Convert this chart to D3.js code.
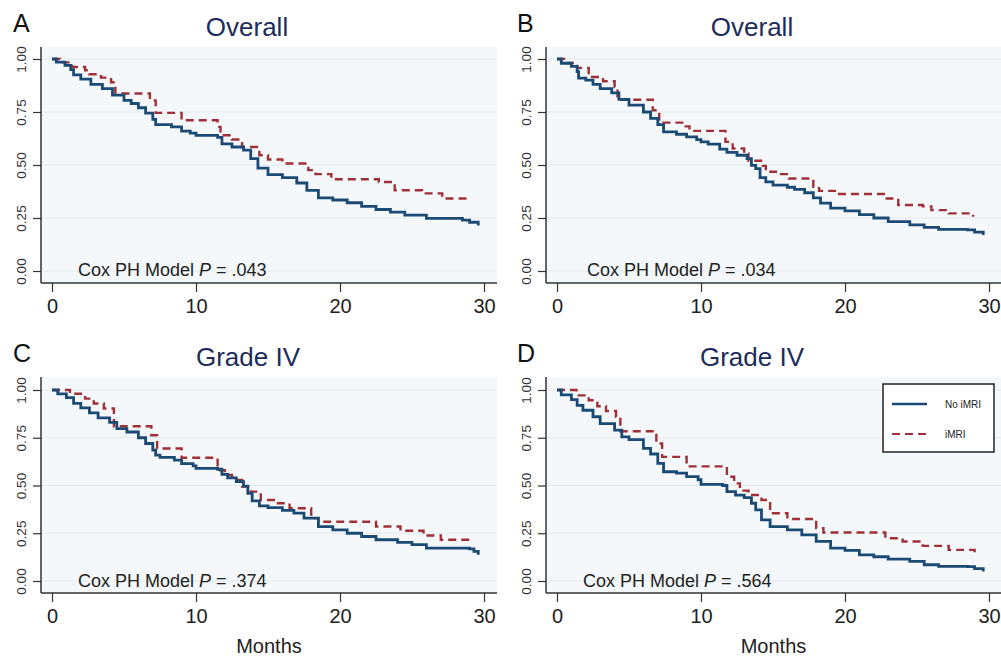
<!DOCTYPE html>
<html>
<head>
<meta charset="utf-8">
<script src="https://cdn.jsdelivr.net/npm/d3@7"></script>
<style>
  body { margin: 0; background: #fff; }
  svg { display: block; font-family: "Liberation Sans", Arial, sans-serif; }
</style>
</head>
<body>
<svg id="chart" width="1001" height="656"></svg>
<script>
// tick labels / text
var monthTicks = [0, 10, 20, 30];
var survTicks = [0, 0.25, 0.5, 0.75, 1];
var panelLetters = ["A", "B", "C", "D"];
var panelTitles = ["Overall", "Overall", "Grade IV", "Grade IV"];
var pValues = [".043", ".034", ".374", ".564"];
var seriesNames = ["No iMRI", "iMRI"];

// Kaplan-Meier curves: [month, survival]
var aNoImri = [[0,1],[0.3,0.985],[0.9,0.97],[1.3,0.95],[1.5,0.925],[2,0.905],[2.7,0.88],[3.5,0.86],[4.2,0.83],[5,0.805],
  [5.5,0.79],[6,0.77],[6.5,0.745],[7,0.715],[7.2,0.69],[8.3,0.68],[9,0.66],[9.6,0.65],[10,0.64],[11.5,0.63],[11.8,0.6],
  [12.5,0.585],[13.3,0.57],[13.8,0.53],[14.3,0.485],[15,0.455],[16,0.44],[17,0.415],[17.7,0.38],[18.5,0.345],[19.5,0.335],
  [20.5,0.322],[21.5,0.305],[22.5,0.29],[23.5,0.278],[24.5,0.264],[26,0.248],[28.5,0.24],[29,0.23],[29.6,0.215]];
var aImri = [[0,1],[0.55,0.984],[1.4,0.962],[2.3,0.947],[2.6,0.928],[3.4,0.912],[4.1,0.89],[4.4,0.837],[6.8,0.805],[7.2,0.746],
  [9,0.711],[11.5,0.68],[11.7,0.64],[12.5,0.62],[13.2,0.585],[14.4,0.546],[15,0.526],[16,0.507],[17.8,0.476],[18.3,0.457],
  [19.4,0.433],[22.7,0.42],[23.8,0.381],[25.7,0.366],[27.1,0.342],[28.9,0.327]];

var bNoImri = [[0,1],[0.3,0.98],[1,0.965],[1.4,0.94],[1.5,0.91],[2,0.9],[2.5,0.88],[3,0.86],[3.8,0.84],[4.3,0.81],[5,0.782],
  [6,0.75],[6.5,0.72],[7,0.69],[7.4,0.656],[8.3,0.645],[9,0.633],[9.7,0.62],[10,0.609],[10.5,0.598],[11.3,0.575],[11.8,0.56],
  [12.5,0.546],[13.2,0.53],[13.5,0.498],[13.8,0.483],[14.1,0.44],[14.5,0.42],[15,0.405],[16,0.395],[16.5,0.385],[17.2,0.369],
  [17.8,0.345],[18.3,0.32],[19,0.297],[20,0.284],[21,0.266],[22,0.25],[23,0.233],[24.5,0.218],[25.5,0.206],[26.5,0.196],
  [28.5,0.194],[29,0.183],[29.6,0.17]];
var bImri = [[0,1],[0.5,0.981],[1.4,0.958],[2.2,0.915],[3.2,0.895],[4,0.868],[4.2,0.808],[6.65,0.758],[7.1,0.7],[8.7,0.682],
  [9.2,0.661],[11.7,0.609],[12.2,0.578],[13,0.554],[13.3,0.52],[14.3,0.496],[14.5,0.468],[15.2,0.457],[16.1,0.436],[17.8,0.397],
  [18.2,0.378],[19.4,0.363],[22.8,0.342],[23.7,0.311],[25.4,0.305],[26,0.287],[27.2,0.272],[28.9,0.256]];

var cNoImri = [[0,1],[0.4,0.98],[1,0.96],[1.5,0.93],[2,0.906],[2.6,0.88],[3.2,0.854],[4,0.83],[4.5,0.798],[5.2,0.78],[6,0.75],
  [6.5,0.72],[7,0.685],[7.2,0.659],[7.5,0.647],[8.5,0.633],[9,0.615],[9.8,0.603],[10,0.59],[11.5,0.585],[11.8,0.558],[12.2,0.54],
  [12.8,0.52],[13.3,0.497],[13.6,0.459],[13.9,0.419],[14.4,0.393],[15,0.384],[16,0.37],[16.8,0.355],[17.5,0.329],[18.5,0.285],
  [19.5,0.268],[20.5,0.25],[21.5,0.233],[22.5,0.216],[24,0.202],[25,0.19],[26,0.172],[29,0.168],[29.3,0.155],[29.6,0.137]];
var cImri = [[0,1],[1.25,0.98],[2.3,0.955],[2.9,0.929],[3.6,0.903],[4.3,0.81],[6.9,0.763],[7.3,0.694],[9,0.645],[11.5,0.58],
  [12,0.555],[12.5,0.529],[13.2,0.494],[13.8,0.468],[14.5,0.424],[15.5,0.407],[16.5,0.381],[18,0.329],[18.5,0.31],[22.5,0.285],
  [24.2,0.263],[25.8,0.238],[27,0.216],[29,0.195]];

var dNoImri = [[0,1],[0.3,0.975],[1,0.95],[1.4,0.92],[1.8,0.894],[2.5,0.86],[3,0.824],[4,0.79],[4.5,0.755],[5,0.74],[6,0.694],
  [6.5,0.665],[7,0.616],[7.4,0.572],[8.3,0.565],[9,0.546],[9.8,0.53],[10,0.506],[11.5,0.5],[11.8,0.468],[12.4,0.45],[13,0.437],
  [13.5,0.407],[13.8,0.372],[14.2,0.32],[14.8,0.285],[16,0.268],[17,0.242],[18,0.207],[19,0.172],[20,0.16],[21,0.137],
  [22,0.127],[23,0.115],[24.5,0.103],[25.5,0.085],[26.5,0.077],[28.5,0.075],[29,0.065],[29.6,0.05]];
var dImri = [[0,1],[1.35,0.972],[2.2,0.946],[2.8,0.915],[3.4,0.89],[4.1,0.86],[4.4,0.784],[6.9,0.72],[7.3,0.65],[9,0.6],
  [11.8,0.546],[12.3,0.511],[12.7,0.473],[13.3,0.45],[14.2,0.424],[14.8,0.355],[16,0.325],[18,0.277],[18.5,0.254],
  [22.8,0.224],[24,0.207],[25.4,0.184],[27.2,0.163],[29,0.15]];

var curvesNoImri = [aNoImri, bNoImri, cNoImri, dNoImri];
var curvesImri = [aImri, bImri, cImri, dImri];

// panel geometry
var frames = [
  {l: 41, r: 497, t: 47, b: 283, x0: 52, x1: 484, yTop: 59, yBot: 271, titleX: 247, titleY: 36, letterX: 13, labX: 25.5, noteX: 78, noteY: 276},
  {l: 546, r: 1001, t: 47, b: 283, x0: 557, x1: 989, yTop: 59, yBot: 271, titleX: 752, titleY: 36, letterX: 517, labX: 531, noteX: 587, noteY: 276},
  {l: 41, r: 497, t: 377, b: 593, x0: 52, x1: 484, yTop: 390, yBot: 581, titleX: 248, titleY: 366, letterX: 13, labX: 25.5, noteX: 78, noteY: 587},
  {l: 546, r: 1001, t: 377, b: 593, x0: 557, x1: 989, yTop: 390, yBot: 581, titleX: 752, titleY: 366, letterX: 517, labX: 531, noteX: 583, noteY: 587}
];

var blue = "#1b4a75", red = "#9e3036", navy = "#1d2b5c", ink = "#222";
var svg = d3.select("#chart");

frames.forEach(function(f, i) {
  var g = svg.append("g");
  var x = d3.scaleLinear().domain([0, 30]).range([f.x0, f.x1]);
  var y = d3.scaleLinear().domain([0, 1]).range([f.yBot, f.yTop]);

  g.append("rect").attr("x", f.l).attr("y", f.t)
    .attr("width", f.r - f.l).attr("height", f.b - f.t)
    .attr("fill", "#f4f8fa");

  g.selectAll(".grid").data(survTicks).enter().append("line")
    .attr("x1", f.l).attr("x2", f.r)
    .attr("y1", function(d) { return y(d); }).attr("y2", function(d) { return y(d); })
    .attr("stroke", "#e3ebee").attr("stroke-width", 1);

  // y axis, labels turned on their side like the original
  var ya = g.append("g").attr("transform", "translate(" + f.l + ",0)")
    .call(d3.axisLeft(y).tickValues(survTicks).tickFormat(d3.format(".2f")).tickSize(8));
  ya.select(".domain").remove();
  ya.selectAll("line").attr("stroke", "#333").attr("stroke-width", 1.2);
  ya.selectAll("text")
    .attr("x", 0).attr("dy", 0).attr("text-anchor", "middle")
    .attr("transform", "translate(" + (f.labX - f.l) + ",0) rotate(-90)")
    .attr("font-size", 13.5).attr("fill", "#333")
    .style("font-family", "'Liberation Sans', Arial, sans-serif");

  // x axis
  var xa = g.append("g").attr("transform", "translate(0," + f.b + ")")
    .call(d3.axisBottom(x).tickValues(monthTicks).tickSize(9));
  xa.select(".domain").remove();
  xa.selectAll("line").attr("stroke", "#333").attr("stroke-width", 1.2);
  xa.selectAll("text").attr("y", 16).attr("font-size", 20).attr("fill", ink)
    .style("font-family", "'Liberation Sans', Arial, sans-serif");

  g.append("line").attr("x1", f.l).attr("x2", f.l).attr("y1", f.t).attr("y2", f.b)
    .attr("stroke", "#333").attr("stroke-width", 1.5);
  g.append("line").attr("x1", f.l).attr("x2", f.r).attr("y1", f.b).attr("y2", f.b)
    .attr("stroke", "#333").attr("stroke-width", 1.5);

  var line = d3.line()
    .x(function(d) { return x(d[0]); })
    .y(function(d) { return y(d[1]); })
    .curve(d3.curveStepAfter);

  g.append("path").datum(curvesImri[i]).attr("d", line)
    .attr("fill", "none").attr("stroke", red).attr("stroke-width", 2.4)
    .attr("stroke-dasharray", "8,5");
  g.append("path").datum(curvesNoImri[i]).attr("d", line)
    .attr("fill", "none").attr("stroke", blue).attr("stroke-width", 2.8);

  // titles and notes
  g.append("text").attr("x", f.titleX).attr("y", f.titleY)
    .attr("text-anchor", "middle").attr("font-size", 26).attr("fill", navy)
    .text(panelTitles[i]);
  g.append("text").attr("x", f.letterX).attr("y", f.titleY - 4)
    .attr("font-size", 25).attr("fill", "#111")
    .text(panelLetters[i]);

  var note = g.append("text").attr("x", f.noteX).attr("y", f.noteY)
    .attr("font-size", 18).attr("fill", ink);
  note.append("tspan").text("Cox PH Model ");
  note.append("tspan").attr("font-style", "italic").text("P");
  note.append("tspan").text(" = " + pValues[i]);

  if (i >= 2) {
    g.append("text").attr("x", (f.l + f.r) / 2).attr("y", 653)
      .attr("text-anchor", "middle").attr("font-size", 20).attr("fill", ink)
      .text("Months");
  }

  if (i === 3) {
    var lg = g.append("g");
    lg.append("rect").attr("x", 883).attr("y", 384).attr("width", 111).attr("height", 68)
      .attr("fill", "#fff").attr("stroke", "#222").attr("stroke-width", 1.5);
    [blue, red].forEach(function(c, k) {
      var ly = 404 + k * 30;
      lg.append("line").attr("x1", 892).attr("x2", 927).attr("y1", ly).attr("y2", ly)
        .attr("stroke", c).attr("stroke-width", k ? 2.2 : 2.6)
        .attr("stroke-dasharray", k ? "8,5" : null);
      lg.append("text").attr("x", 945).attr("y", ly + 4)
        .attr("font-size", 10).attr("fill", ink).text(seriesNames[k]);
    });
  }
});
</script>
</body>
</html>
